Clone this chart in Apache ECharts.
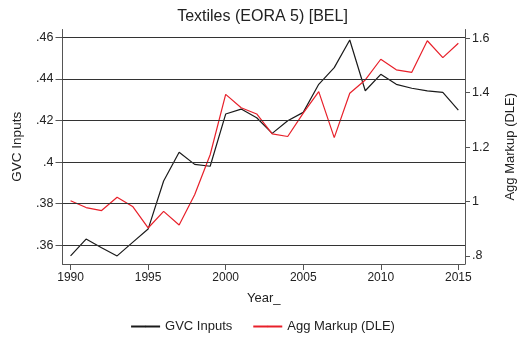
<!DOCTYPE html>
<html><head><meta charset="utf-8">
<script src="https://cdn.jsdelivr.net/npm/echarts@6/dist/echarts.min.js"></script>
<style>html,body{margin:0;padding:0;background:#fff}#c{width:525px;height:338px}</style>
</head><body><div id="c"></div>
<script>
const years = [1990,1991,1992,1993,1994,1995,1996,1997,1998,1999,2000,2001,2002,2003,2004,2005,2006,2007,2008,2009,2010,2011,2012,2013,2014,2015];
const gvcInputs = [0.3549,0.3630,0.3588,0.3549,0.3614,0.3678,0.3909,0.4047,0.3989,0.3980,0.4231,0.4255,0.4213,0.4138,0.4199,0.4239,0.4374,0.4454,0.4587,0.4343,0.4422,0.4374,0.4355,0.4342,0.4335,0.4250];
const aggMarkup = [1.003,0.978,0.967,1.016,0.982,0.903,0.964,0.914,1.025,1.172,1.394,1.345,1.322,1.249,1.239,1.325,1.404,1.235,1.398,1.447,1.523,1.484,1.475,1.591,1.529,1.582];
const xTicks = [1990,1995,2000,2005,2010,2015];
const leftTicks = [0.36,0.38,0.40,0.42,0.44,0.46];
const rightTicks = [0.8,1.0,1.2,1.4,1.6];

const FONT = 'Liberation Sans, Arial, Helvetica, sans-serif';
const fmt = v => String(+(+v).toFixed(2)).replace(/^0\./, '.');
const axisCol = '#555';
const chart = echarts.init(document.getElementById('c'), null, {renderer:'canvas'});
chart.setOption({
  animation:false,
  backgroundColor:'#fff',
  textStyle:{fontFamily:FONT},
  title:{text:'Textiles (EORA 5) [BEL]', left:'center', top:4,
    textStyle:{fontFamily:FONT, fontSize:16, fontWeight:'normal', color:'#222'}},
  grid:{left:62.5, right:51.5, top:29.5, bottom:74},
  legend:{bottom:0, left:'center', itemWidth:29, itemHeight:2, itemGap:20,
    textStyle:{fontFamily:FONT, fontSize:13, color:'#222'},
    data:['GVC Inputs','Agg Markup (DLE)']},
  xAxis:{type:'value', min:1989.48, max:2015.43,
    name:'Year_', nameLocation:'middle', nameGap:28,
    nameTextStyle:{fontFamily:FONT, fontSize:13, color:'#222'},
    axisLine:{show:true, lineStyle:{color:axisCol, width:1}},
    axisTick:{show:true, length:6, customValues:xTicks, lineStyle:{color:axisCol}},
    axisLabel:{customValues:xTicks, fontFamily:FONT, fontSize:12, color:'#222', margin:8, formatter:v=>String(v)},
    splitLine:{show:false}},
  yAxis:[
    {type:'value', position:'left', min:0.35101, max:0.46375,
      name:'GVC Inputs', nameLocation:'middle', nameGap:38, nameRotate:90,
      nameTextStyle:{fontFamily:FONT, fontSize:13.5, color:'#222'},
      axisLine:{show:true, lineStyle:{color:axisCol, width:1}},
      axisTick:{show:true, length:7, customValues:leftTicks, lineStyle:{color:axisCol}},
      axisLabel:{customValues:leftTicks, fontFamily:FONT, fontSize:12.5, color:'#222', margin:9, formatter:fmt},
      splitLine:{show:false}},
    {type:'value', position:'right', min:0.7706, max:1.6323,
      name:'Agg Markup (DLE)', nameLocation:'middle', nameGap:39, nameRotate:90,
      nameTextStyle:{fontFamily:FONT, fontSize:13, color:'#222'},
      axisLine:{show:true, lineStyle:{color:axisCol, width:1}},
      axisTick:{show:true, length:5, customValues:rightTicks, lineStyle:{color:axisCol}},
      axisLabel:{customValues:rightTicks, fontFamily:FONT, fontSize:12.5, color:'#222', margin:7, formatter:fmt},
      splitLine:{show:false}}
  ],
  series:[
    {name:'GVC Inputs', type:'line', yAxisIndex:0, symbol:'none', clip:false,
      data:years.map((y,i)=>[y,gvcInputs[i]]),
      lineStyle:{color:'#1a1a1a', width:1.2}, itemStyle:{color:'#1a1a1a'},
      markLine:{silent:true, symbol:'none', label:{show:false},
        lineStyle:{color:'#333', width:1, type:'solid'},
        data:leftTicks.map(v=>({yAxis:v}))}},
    {name:'Agg Markup (DLE)', type:'line', yAxisIndex:1, symbol:'none', clip:false,
      data:years.map((y,i)=>[y,aggMarkup[i]]),
      lineStyle:{color:'#e8202a', width:1.2}, itemStyle:{color:'#e8202a'}}
  ]
});
</script></body></html>
